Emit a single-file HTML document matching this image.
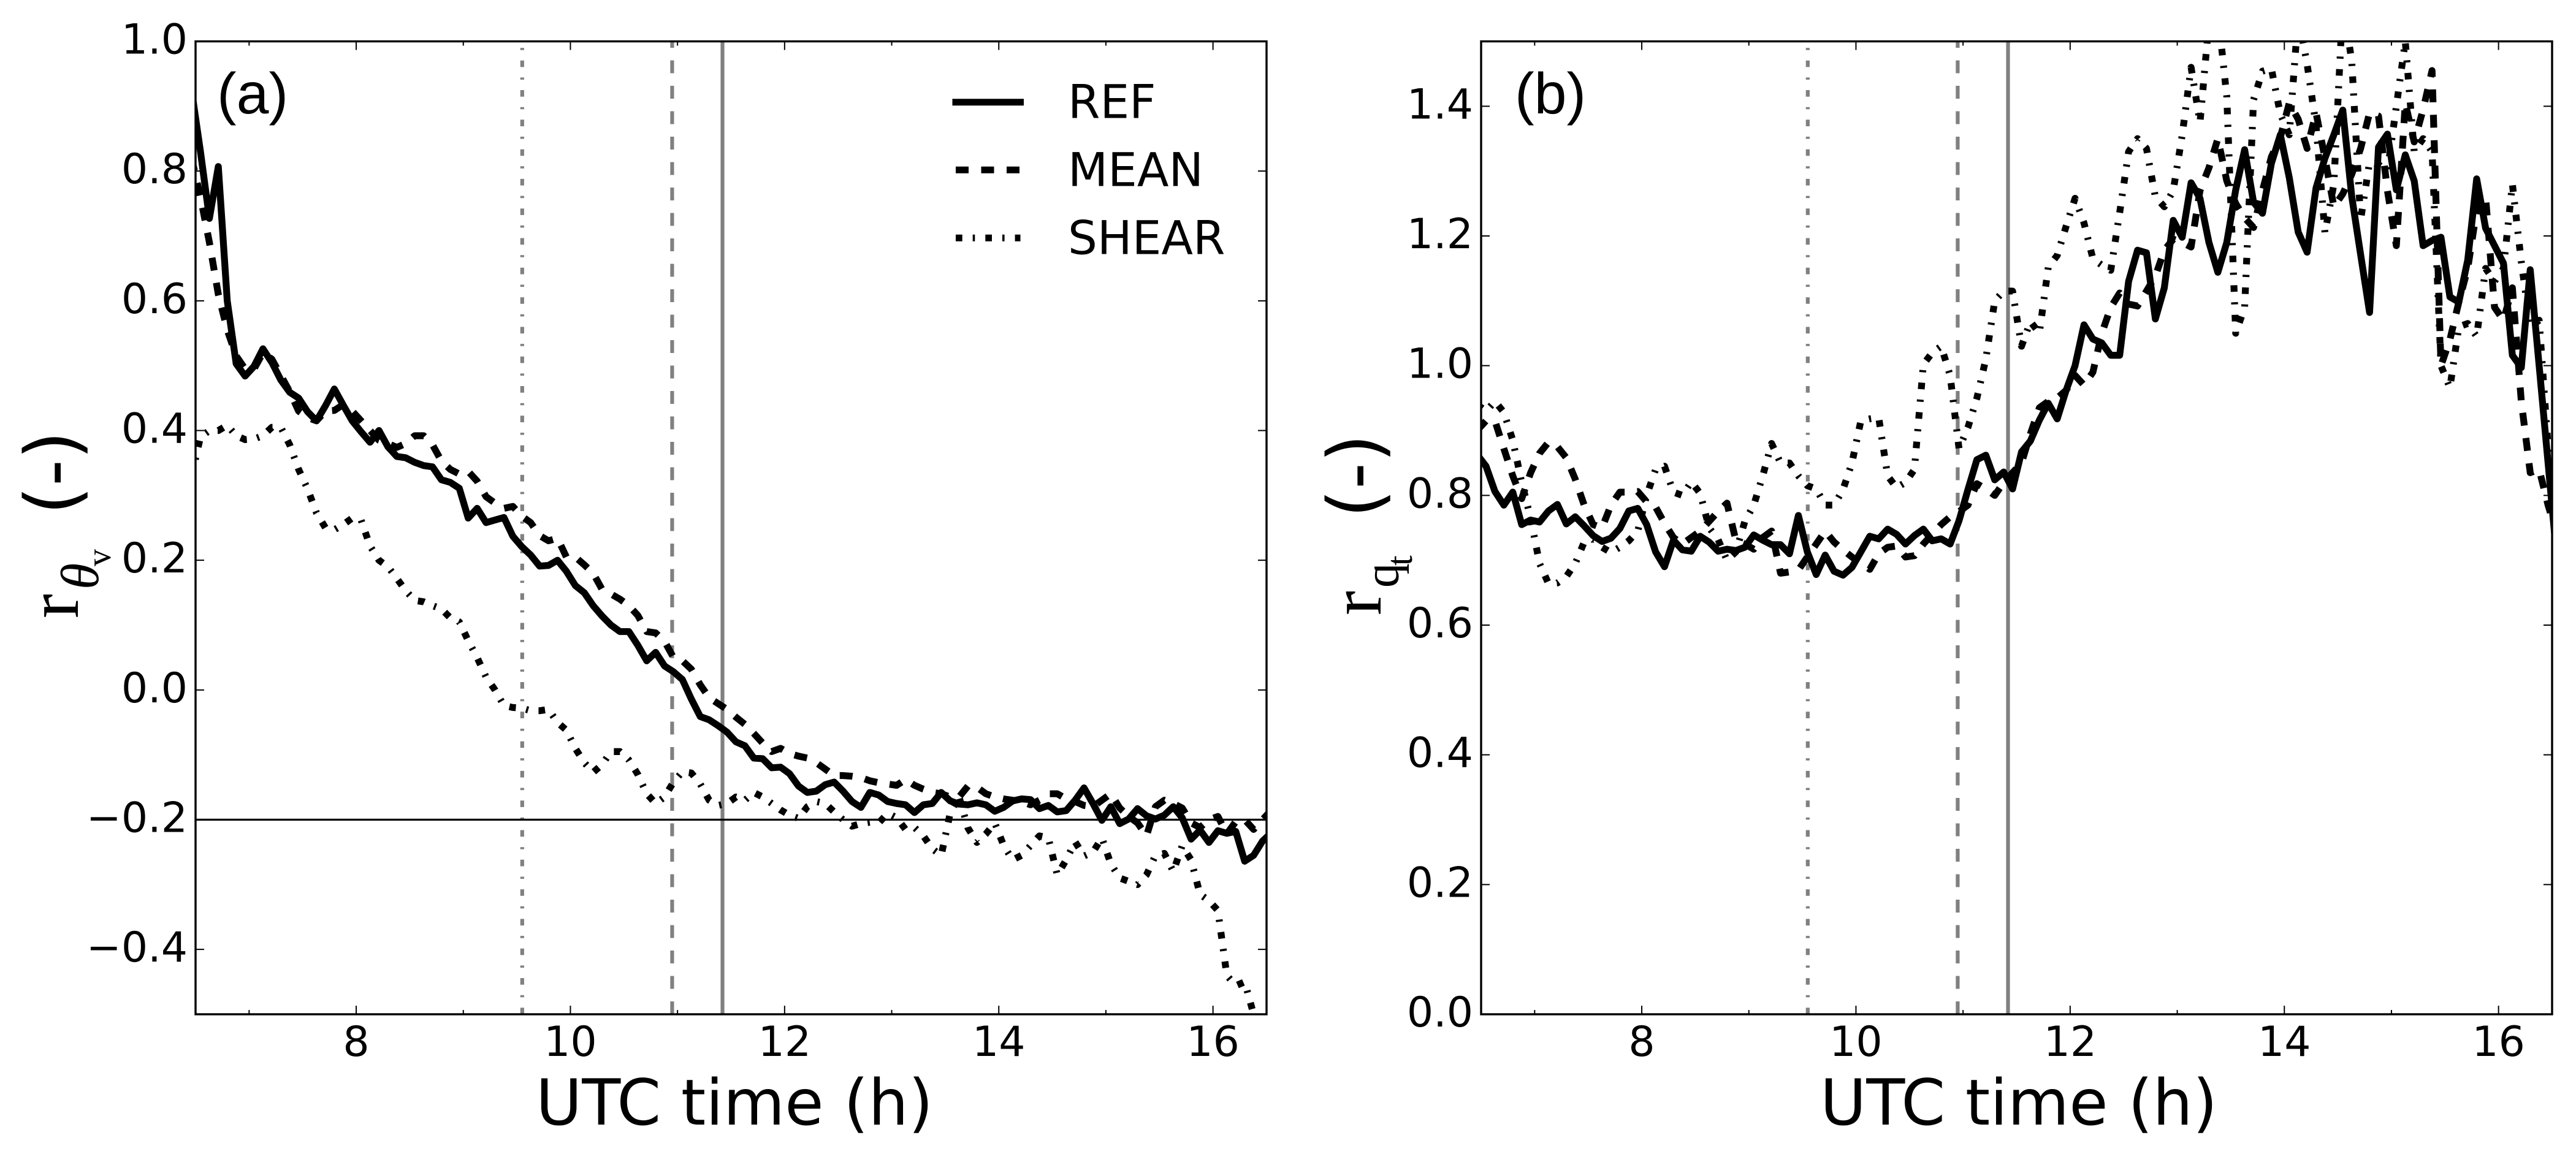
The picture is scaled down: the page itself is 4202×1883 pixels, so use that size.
<!DOCTYPE html>
<html lang="en">
<head>
<meta charset="utf-8">
<title>Correlation ratios over UTC time</title>
<style>
html,body{margin:0;padding:0;background:#fff;}
svg{display:block;}
.tick{font-family:"DejaVu Sans","Liberation Sans",sans-serif;font-size:68px;fill:#000;}
.xt{font-family:"DejaVu Sans","Liberation Sans",sans-serif;font-size:103px;fill:#000;}
.leg{font-family:"DejaVu Sans","Liberation Sans",sans-serif;font-size:75.5px;fill:#000;}
.pl{font-family:"Liberation Sans",sans-serif;font-size:95px;fill:#000;}
.unit{font-family:"DejaVu Sans","Liberation Sans",sans-serif;font-size:120px;fill:#000;}
.m{font-family:"Liberation Serif",serif;fill:#000;}
</style>
</head>
<body>
<svg id="figure" xmlns="http://www.w3.org/2000/svg" width="4202" height="1883" viewBox="0 0 4202 1883">
  <rect x="0" y="0" width="4202" height="1883" fill="#fff"/>
  <defs>
    <clipPath id="clip-a"><rect x="319" y="67.5" width="1747" height="1587.5"/></clipPath>
    <clipPath id="clip-b"><rect x="2416" y="67.5" width="1747" height="1587.5"/></clipPath>
  </defs>
  <g id="panel-a"></g>
  <g id="panel-b"></g>

  <text class="pl" x="354" y="185">(a)</text>
  <text class="pl" x="2471" y="185">(b)</text>

  <text class="xt" x="1198" y="1835" text-anchor="middle">UTC time (h)</text>
  <text class="xt" x="3293" y="1835" text-anchor="middle">UTC time (h)</text>

  <g>
    <text class="m" font-size="120" transform="translate(127 1009) rotate(-90)">r</text>
    <text class="m" font-size="88" font-style="italic" transform="translate(160 962) rotate(-90)">θ</text>
    <text class="m" font-size="56" transform="translate(180 924) rotate(-90)">v</text>
    <text class="unit" transform="translate(127 840) rotate(-90)">(-)</text>
  </g>
  <g>
    <text class="m" font-size="120" transform="translate(2252 1004) rotate(-90)">r</text>
    <text class="m" font-size="80" transform="translate(2281 959) rotate(-90)">q</text>
    <text class="m" font-size="60" transform="translate(2303 923) rotate(-90)">t</text>
    <text class="unit" transform="translate(2252 845) rotate(-90)">(-)</text>
  </g>

  <g>
    <line x1="1559" x2="1664.5" y1="166.7" y2="166.7" stroke="#000" stroke-width="11" stroke-linecap="square"/>
    <line x1="1559" x2="1664.5" y1="277.3" y2="277.3" stroke="#000" stroke-width="11" stroke-dasharray="21 20.5"/>
    <line x1="1559" x2="1664.5" y1="388.3" y2="388.3" stroke="#000" stroke-width="11" stroke-dasharray="10.7 17 3.6 17"/>
    <text class="leg" x="1742" y="192.7">REF</text>
    <text class="leg" x="1742" y="303.3">MEAN</text>
    <text class="leg" x="1742" y="414.3">SHEAR</text>
  </g>
</svg>
<script>
// Sample times: one value every 5 minutes, first sample just left of the axis.
const firstSampleHour = 6.4625;
const sampleStepHours = 1 / 12;

// Panel (a): r_theta_v
const refA = [
 .925,.83,.727,.807,.6,.503,.484,.499,.526,.505,.478,
 .459,.45,.429,.415,.438,.464,.439,.415,.398,.382,
 .4,.375,.36,.358,.351,.346,.344,.324,.32,.311,
 .265,.28,.258,.262,.266,.237,.221,.208,.191,.192,
 .2,.183,.161,.15,.13,.114,.1,.09,.09,.069,
 .045,.058,.037,.028,.016,-.014,-.041,-.046,-.055,-.065,
 -.08,-.086,-.105,-.106,-.12,-.119,-.129,-.148,-.158,-.156,
 -.146,-.142,-.156,-.172,-.181,-.158,-.162,-.172,-.175,-.177,
 -.189,-.177,-.175,-.158,-.171,-.176,-.177,-.174,-.177,-.187,
 -.181,-.171,-.168,-.169,-.183,-.178,-.188,-.186,-.17,-.151,
 -.175,-.201,-.18,-.206,-.199,-.183,-.194,-.199,-.193,-.18,
 -.197,-.23,-.216,-.235,-.217,-.221,-.218,-.264,-.255,-.233,-.22
];
const meanA = [
 .82,.76,.69,.61,.555,.515,.495,.495,.52,.51,.485,
 .46,.43,.42,.415,.43,.431,.44,.43,.415,.4,
 .385,.38,.374,.38,.392,.392,.378,.353,.34,.333,
 .337,.322,.298,.288,.28,.283,.268,.258,.238,.23,
 .234,.205,.205,.193,.18,.155,.148,.14,.13,.115,
 .09,.088,.075,.05,.045,.032,.008,-.012,-.021,-.03,
 -.042,-.053,-.067,-.082,-.095,-.09,-.098,-.102,-.105,-.112,
 -.122,-.132,-.132,-.133,-.135,-.14,-.143,-.145,-.147,-.138,
 -.147,-.153,-.158,-.16,-.165,-.165,-.148,-.15,-.16,-.165,
 -.168,-.17,-.172,-.177,-.17,-.16,-.16,-.168,-.172,-.178,
 -.18,-.17,-.16,-.182,-.195,-.205,-.225,-.18,-.17,-.175,
 -.182,-.205,-.212,-.2,-.195,-.222,-.203,-.2,-.215,-.2,-.185
];
const shearA = [
 .33,.39,.4,.4,.408,.392,.386,.387,.392,.405,.405,
 .378,.34,.31,.273,.25,.247,.255,.265,.262,.222,
 .2,.19,.172,.153,.138,.136,.13,.125,.111,.105,
 .076,.05,.02,0,-.024,-.027,-.028,-.032,-.032,-.03,
 -.05,-.062,-.09,-.112,-.127,-.115,-.095,-.095,-.108,-.13,
 -.16,-.175,-.165,-.142,-.126,-.128,-.145,-.17,-.178,-.175,
 -.165,-.17,-.158,-.165,-.175,-.185,-.193,-.198,-.18,-.172,
 -.175,-.188,-.2,-.21,-.206,-.204,-.205,-.19,-.197,-.215,
 -.212,-.225,-.245,-.255,-.19,-.165,-.213,-.235,-.222,-.205,
 -.24,-.262,-.255,-.24,-.225,-.228,-.285,-.262,-.234,-.256,
 -.25,-.228,-.268,-.29,-.295,-.3,-.285,-.255,-.252,-.28,
 -.24,-.262,-.315,-.325,-.34,-.44,-.456,-.45,-.5,-.52,-.54
];

// Panel (b): r_qt
const refB = [
 .863,.845,.806,.785,.805,.755,.762,.759,.776,.786,.756,
 .767,.753,.738,.729,.734,.749,.776,.78,.755,.713,
 .69,.731,.716,.714,.737,.728,.714,.717,.715,.72,
 .739,.731,.724,.724,.71,.769,.713,.678,.708,.683,
 .677,.689,.713,.737,.733,.748,.74,.725,.738,.748,
 .73,.733,.725,.761,.809,.855,.862,.824,.836,.81,
 .867,.884,.916,.942,.918,.962,1,1.063,1.041,1.035,
 1.016,1.016,1.13,1.178,1.174,1.072,1.12,1.224,1.198,1.282,
 1.258,1.19,1.144,1.19,1.271,1.333,1.252,1.235,1.312,1.356,
 1.29,1.206,1.175,1.274,1.32,1.356,1.394,1.261,1.171,1.082,
 1.337,1.357,1.271,1.325,1.285,1.185,1.193,1.198,1.106,1.098,
 1.163,1.288,1.212,1.185,1.158,1.016,.997,1.148,1,.85,.7
];
const meanB = [
 .9,.915,.915,.872,.83,.795,.835,.865,.882,.875,.858,
 .825,.785,.755,.75,.785,.805,.805,.806,.79,.782,
 .757,.735,.725,.735,.745,.76,.775,.788,.73,.725,
 .717,.735,.745,.68,.682,.685,.705,.725,.745,.728,
 .716,.705,.695,.686,.71,.72,.722,.705,.707,.725,
 .74,.755,.767,.775,.785,.818,.81,.8,.82,.835,
 .85,.895,.935,.945,.95,.962,.985,.97,.99,1.05,
 1.09,1.112,1.095,1.092,1.115,1.138,1.178,1.195,1.19,1.183,
 1.27,1.305,1.35,1.285,1.25,1.228,1.213,1.27,1.322,1.352,
 1.405,1.38,1.335,1.39,1.32,1.245,1.265,1.295,1.335,1.39,
 1.385,1.27,1.185,1.405,1.345,1.395,1.455,1,1.04,1.098,
 1.15,1.24,1.26,1.09,1.07,1.12,.945,.835,.84,.785,.74
];
const shearB = [
 .94,.93,.945,.928,.885,.82,.765,.695,.664,.665,.675,
 .695,.728,.732,.72,.712,.72,.73,.745,.8,.84,
 .845,.805,.8,.821,.803,.75,.732,.7,.713,.76,
 .785,.83,.88,.85,.85,.83,.815,.81,.785,.785,
 .809,.85,.915,.918,.92,.83,.812,.82,.84,1.002,
 1.02,1.03,.985,.872,.905,.95,1.01,1.1,1.115,1.115,
 1.03,1.068,1.05,1.152,1.17,1.215,1.258,1.22,1.165,1.155,
 1.147,1.236,1.33,1.35,1.335,1.26,1.245,1.27,1.355,1.46,
 1.375,1.53,1.545,1.415,1.05,1.09,1.41,1.454,1.458,1.388,
 1.356,1.54,1.465,1.371,1.205,1.28,1.56,1.47,1.225,1.314,
 1.31,1.3,1.4,1.5,1.33,1.35,1.33,1,.966,1.06,
 1.065,1.045,1.15,1.13,1.15,1.28,1.16,1.06,1.07,.875,.7
];

// Shared ticks and reference lines
const xMajorTicks = [8, 10, 12, 14, 16];
const xMajorLabels = ['8', '10', '12', '14', '16'];
const xMinorTicks = [7, 9, 11, 13, 15];
const yTicksA = [-0.4, -0.2, 0, 0.2, 0.4, 0.6, 0.8, 1.0];
const yTickLabelsA = ['\u22120.4', '\u22120.2', '0.0', '0.2', '0.4', '0.6', '0.8', '1.0'];
const yTicksB = [0, 0.2, 0.4, 0.6, 0.8, 1.0, 1.2, 1.4];
const yTickLabelsB = ['0.0', '0.2', '0.4', '0.6', '0.8', '1.0', '1.2', '1.4'];
const eventHours = [9.55, 10.95, 11.42];
const referenceLevelA = [-0.2];

const NS = 'http://www.w3.org/2000/svg';
const AX_TOP = 67.5, AX_BOTTOM = 1655, AX_WIDTH = 1747;
const X_MIN = 6.5, X_MAX = 16.5;
const DASH_MEAN = '21 20.5';
const DASH_SHEAR = '10.7 17 3.6 17';

function mk(tag, attrs, parent) {
  const n = document.createElementNS(NS, tag);
  for (const k in attrs) n.setAttribute(k, attrs[k]);
  parent.appendChild(n);
  return n;
}

function drawPanel(panelId, left, clipId, yMin, yMax, refV, meanV, shearV) {
  const g = document.getElementById(panelId);
  const right = left + AX_WIDTH;
  const xs = h => left + (h - X_MIN) / (X_MAX - X_MIN) * AX_WIDTH;
  const ys = v => AX_BOTTOM - (v - yMin) / (yMax - yMin) * (AX_BOTTOM - AX_TOP);
  const pathOf = vals => vals.map((v, i) =>
    (i ? 'L' : 'M') + xs(firstSampleHour + i * sampleStepHours).toFixed(2) + ' ' + ys(v).toFixed(2)).join('');

  const plot = mk('g', {'clip-path': 'url(#' + clipId + ')'}, g);
  
  

  // vertical event lines, drawn bottom to top
  const eventDash = [DASH_SHEAR, DASH_MEAN, 'none'];
  const eventNames = ['event-line-shear', 'event-line-mean', 'event-line-ref'];
  eventHours.forEach((h, i) => {
    const line = mk('line', {x1: xs(h), x2: xs(h), y1: AX_BOTTOM, y2: AX_TOP, stroke: '#808080',
      'stroke-width': 6.2, 'stroke-dasharray': eventDash[i]}, plot);
    
    
  });

  const refLine = mk('path', {d: pathOf(refV), fill: 'none', stroke: '#000', 'stroke-width': 11.2,
    'stroke-linejoin': 'round'}, plot);
  
  

  const meanLine = mk('path', {d: pathOf(meanV), fill: 'none', stroke: '#000', 'stroke-width': 11.2,
    'stroke-linejoin': 'round', 'stroke-dasharray': DASH_MEAN}, plot);
  
  

  const shearLine = mk('path', {d: pathOf(shearV), fill: 'none', stroke: '#000', 'stroke-width': 11.2,
    'stroke-linejoin': 'round', 'stroke-dasharray': DASH_SHEAR}, plot);
  
  

  return {g, xs, ys, left, right};
}

function drawAxes(p, yTicks, yLabels) {
  const {g, xs, ys, left, right} = p;
  xMajorTicks.forEach((h, i) => {
    const d = 'M' + xs(h) + ' ' + AX_BOTTOM + 'v-14M' + xs(h) + ' ' + AX_TOP + 'v14';
    const tick = mk('path', {d: d, stroke: '#000', 'stroke-width': 2, fill: 'none'}, g);
    
    
    const label = mk('text', {x: xs(h), y: 1723, 'text-anchor': 'middle', class: 'tick'}, g);
    label.textContent = xMajorLabels[i];
    
    
  });
  xMinorTicks.forEach(h => {
    const d = 'M' + xs(h) + ' ' + AX_BOTTOM + 'v-7M' + xs(h) + ' ' + AX_TOP + 'v7';
    const tick = mk('path', {d: d, stroke: '#000', 'stroke-width': 2, fill: 'none'}, g);
    
    
  });
  yTicks.forEach((v, i) => {
    const d = 'M' + left + ' ' + ys(v) + 'h14M' + right + ' ' + ys(v) + 'h-14';
    const tick = mk('path', {d: d, stroke: '#000', 'stroke-width': 2, fill: 'none'}, g);
    
    
    const label = mk('text', {x: left - 13, y: ys(v) + 20, 'text-anchor': 'end', class: 'tick'}, g);
    label.textContent = yLabels[i];
    
    
  });
  const frame = mk('rect', {x: left, y: AX_TOP, width: AX_WIDTH, height: AX_BOTTOM - AX_TOP,
    fill: 'none', stroke: '#000', 'stroke-width': 3.4}, g);
  
  
}

const panelA = drawPanel('panel-a', 319, 'clip-a', -0.5, 1.0, refA, meanA, shearA);
referenceLevelA.forEach(v => {
  const level = mk('line', {x1: panelA.left, x2: panelA.right, y1: panelA.ys(v), y2: panelA.ys(v),
    stroke: '#000', 'stroke-width': 3.2}, panelA.g);
  
  
});
drawAxes(panelA, yTicksA, yTickLabelsA);

const panelB = drawPanel('panel-b', 2416, 'clip-b', 0, 1.5, refB, meanB, shearB);
drawAxes(panelB, yTicksB, yTickLabelsB);
</script>
</body>
</html>
